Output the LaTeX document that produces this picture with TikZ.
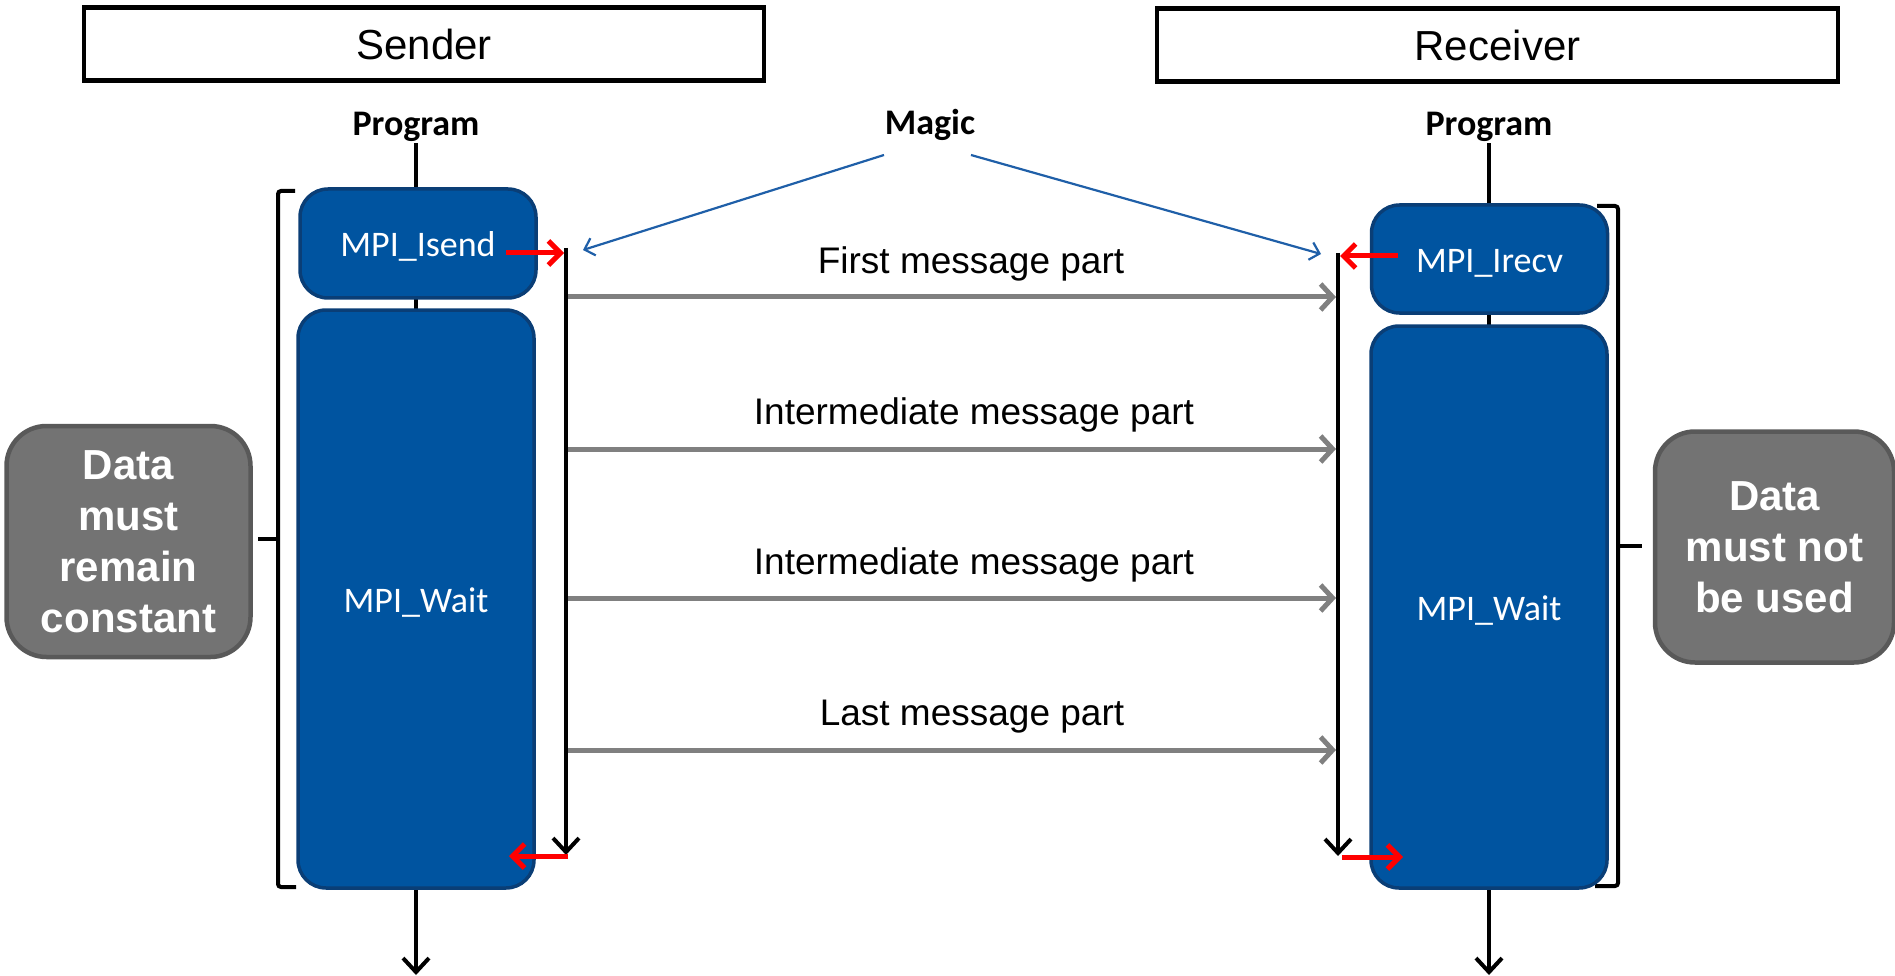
\documentclass[tikz,border=0pt]{standalone}
\usepackage{fontspec}
\setmainfont{Liberation Sans}
\newfontfamily\calib{Carlito}
\usetikzlibrary{arrows.meta}
\definecolor{boxblue}{RGB}{0,84,160}
\definecolor{boxblueedge}{RGB}{10,62,118}
\definecolor{grayfill}{RGB}{115,115,115}
\definecolor{grayedge}{RGB}{89,89,89}
\definecolor{msggray}{RGB}{128,128,128}
\definecolor{magicblue}{RGB}{31,95,168}
\definecolor{arrowred}{RGB}{255,0,0}
\begin{document}
\begin{tikzpicture}[x=1pt,y=-1pt,
  titlebox/.style={draw=black, line width=4.5pt, minimum width=#1, minimum height=73pt, inner sep=0pt,
    font=\fontsize{42}{50}\selectfont},
  proglabel/.style={anchor=base, inner sep=1pt, font=\calib\bfseries\fontsize{36}{43}\selectfont},
  mpibox/.style={draw=boxblueedge, fill=boxblue, line width=3.5pt, rounded corners=28pt,
    minimum width=236pt, minimum height=#1, inner sep=0pt, text=white,
    text height=27pt, text depth=0pt, font=\calib\fontsize{36}{43}\selectfont},
  notebox/.style={draw=grayedge, fill=grayfill, line width=4.5pt, rounded corners=40pt,
    minimum width=#1, minimum height=231pt, inner sep=0pt, text=white, align=center,
    font=\bfseries\fontsize{42}{51}\selectfont},
  msglabel/.style={anchor=base, inner sep=0pt, font=\fontsize{37}{44}\selectfont},
  lifeline/.style={draw=black, line width=4pt, -{Straight Barb[length=14pt,width=26pt,line width=4pt]}},
  timeline/.style={draw=black, line width=4pt, -{Straight Barb[length=14pt,width=26pt,line width=4pt]}},
  msgarrow/.style={draw=msggray, line width=5pt, -{Straight Barb[length=12pt,width=26pt,line width=5pt]}},
  redarrow/.style={draw=arrowred, line width=5pt, -{Straight Barb[length=12pt,width=24pt,line width=5pt]}},
  magicarrow/.style={draw=magicblue, line width=2.2pt, -{Straight Barb[length=9pt,width=18pt,line width=2.2pt]}},
  bracketline/.style={draw=black, line width=4pt, rounded corners=3pt}
]
\useasboundingbox (0,0) rectangle (1895,976);

% titles
\node[titlebox=680pt] (sender) at (424,44) {Sender};
\node[titlebox=681pt] (receiver) at (1497.5,45) {Receiver};

% program labels
\node[proglabel] (progL) at (416,136) {Program};
\node[proglabel] (progR) at (1489,136) {Program};
\node[proglabel] (magic) at (930,135) {Magic};

% lifelines
\coordinate (endL) at (416,975);
\coordinate (endR) at (1489,975);
\draw[lifeline] (progL.south) -- (endL);
\draw[lifeline] (progR.south) -- (endR);

% brackets
\draw[bracketline] (295,191) -- (278,191) -- (278,887) -- (296,887);
\draw[bracketline] (278,539) -- (258,539);
\draw[bracketline] (1597,206) -- (1618,206) -- (1618,886) -- (1595,886);
\draw[bracketline] (1618,546) -- (1642,546);

% MPI boxes
\node[mpibox=109pt] (isend) at (418,243.5) {MPI\_Isend};
\node[mpibox=578pt] (waitL) at (416,599) {MPI\_Wait};
\node[mpibox=108pt] (irecv) at (1489.5,259) {MPI\_Irecv};
\node[mpibox=562pt] (waitR) at (1489,607) {MPI\_Wait};

% notes
\node[notebox=244pt] (noteL) at (128.5,541.5) {Data\\must\\remain\\constant};
\node[notebox=239pt] (noteR) at (1774.5,547) {Data\\must not\\be used};

% timelines
\coordinate (tlLtop) at (566,248);
\coordinate (tlLbot) at (566,855);
\coordinate (tlRtop) at (1338,253);
\coordinate (tlRbot) at (1338,856);
\draw[timeline] (tlLtop) -- (tlLbot);
\draw[timeline] (tlRtop) -- (tlRbot);

% red arrows
\coordinate (isendOut) at (506,253);
\coordinate (isendIn) at (564,253);
\coordinate (irecvOut) at (1398,256);
\coordinate (irecvIn) at (1340,256);
\coordinate (doneLs) at (568,856);
\coordinate (doneLe) at (509,856);
\coordinate (doneRs) at (1342,857);
\coordinate (doneRe) at (1403,857);
\draw[redarrow] (isendOut) -- (isendIn);
\draw[redarrow] (irecvOut) -- (irecvIn);
\draw[redarrow] (doneLs) -- (doneLe);
\draw[redarrow] (doneRs) -- (doneRe);

% magic arrows
\coordinate (mgL) at (884,155);
\coordinate (mgR) at (971,155);
\coordinate (mgLt) at (583,250);
\coordinate (mgRt) at (1321,254);
\draw[magicarrow] (mgL) -- (mgLt);
\draw[magicarrow] (mgR) -- (mgRt);

% messages
\coordinate (m1s) at (568,297); \coordinate (m1e) at (1336,297);
\coordinate (m2s) at (568,449); \coordinate (m2e) at (1336,449);
\coordinate (m3s) at (568,598); \coordinate (m3e) at (1336,598);
\coordinate (m4s) at (568,750); \coordinate (m4e) at (1336,750);
\draw[msgarrow] (m1s) -- (m1e);
\draw[msgarrow] (m2s) -- (m2e);
\draw[msgarrow] (m3s) -- (m3e);
\draw[msgarrow] (m4s) -- (m4e);
\node[msglabel] (l1) at (971,274) {First message part};
\node[msglabel] (l2) at (974,424) {Intermediate message part};
\node[msglabel] (l3) at (974,574) {Intermediate message part};
\node[msglabel] (l4) at (972,725) {Last message part};
\end{tikzpicture}
\end{document}
